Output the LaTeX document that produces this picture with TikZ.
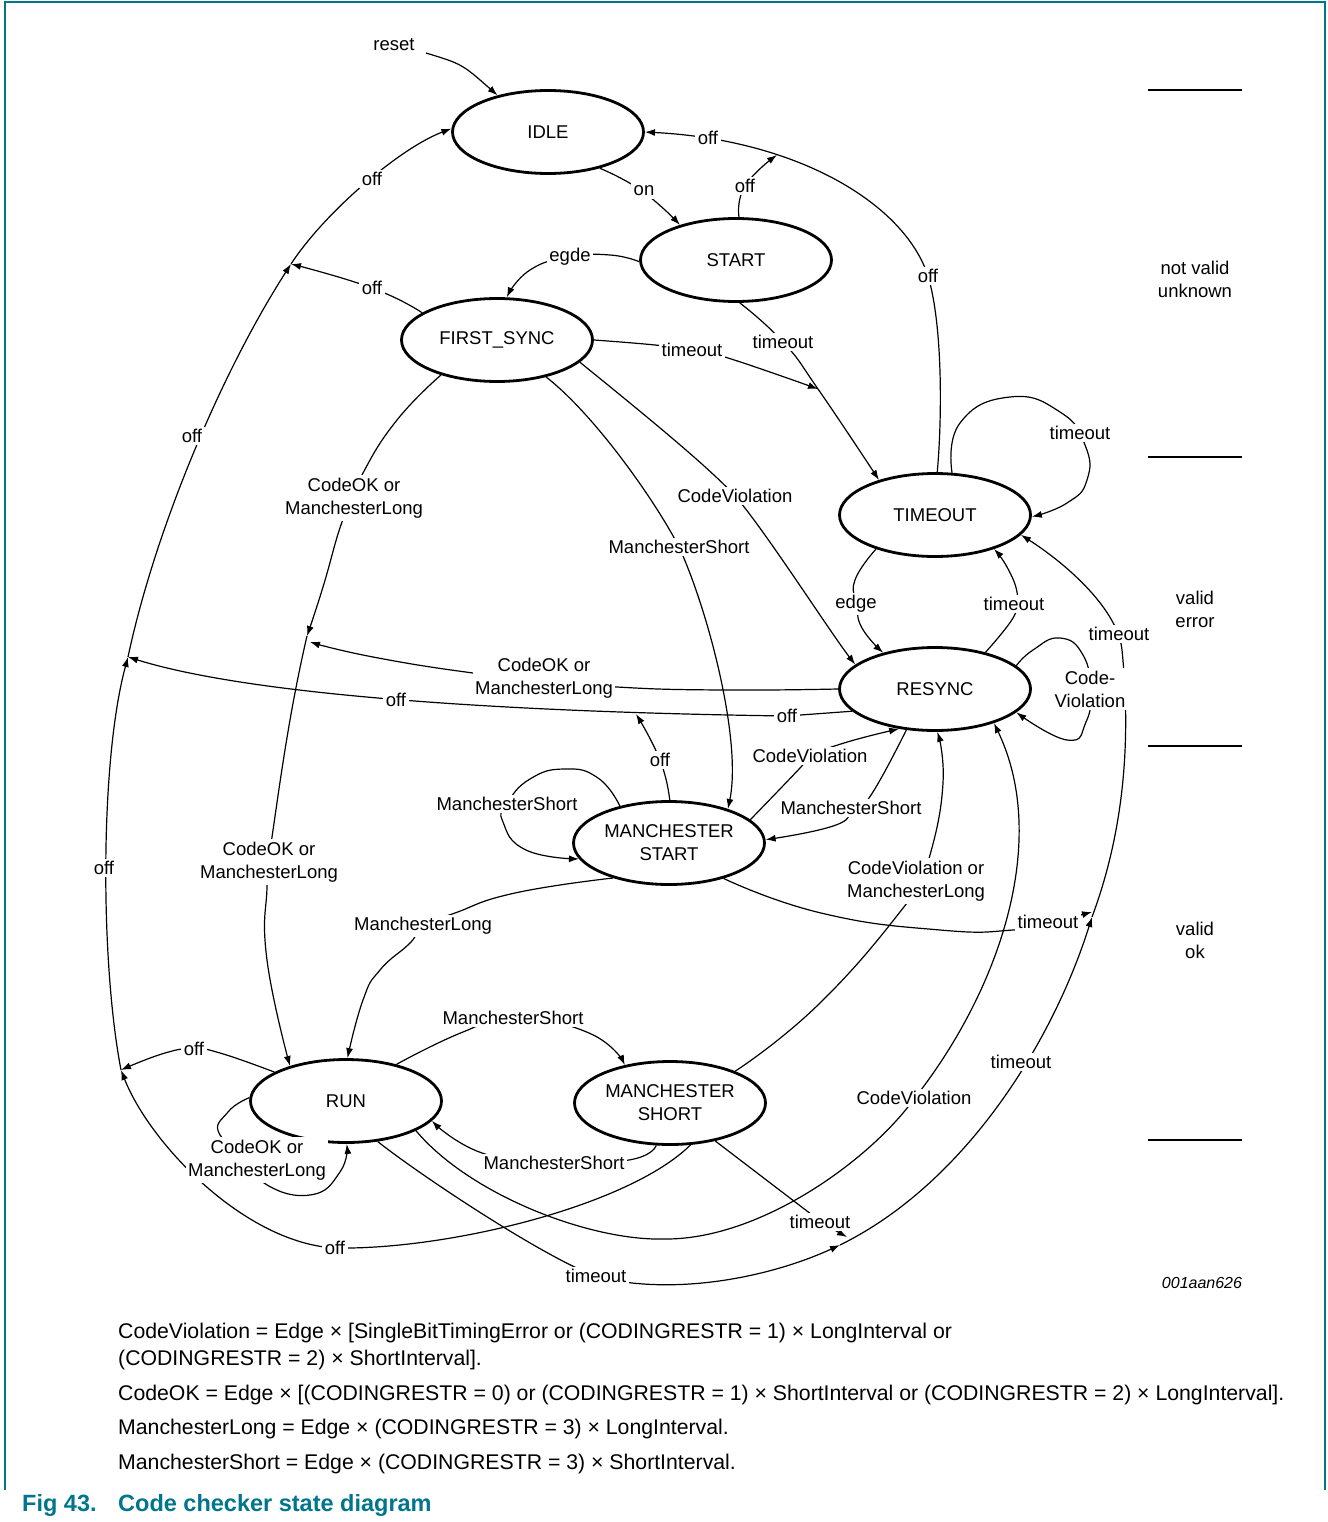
\documentclass[tikz,border=0pt]{standalone}
\usepackage{fontspec}
\setmainfont{Liberation Sans}
\usetikzlibrary{shapes.geometric,arrows.meta}
\definecolor{nxpteal}{RGB}{0,118,140}
\newcommand{\lblfont}{\fontsize{18.5}{23}\selectfont}
\newcommand{\legfont}{\fontsize{21.25}{25}\selectfont}
\begin{document}
\begin{tikzpicture}[x=1pt,y=-1pt]
\tikzset{
  state/.style={ellipse, draw, line width=2.8pt, minimum width=191pt, minimum height=83pt, inner sep=0pt, align=center, font=\lblfont},
  lbl/.style={fill=white, inner sep=2.5pt, align=center, font=\lblfont},
  zone/.style={inner sep=0pt, align=center, font=\lblfont},
  edge/.style={line width=1.2pt, -{Latex[length=10pt,width=7pt]}},
  sm/.style={smooth, tension=0.85},
  legend/.style={anchor=west, inner sep=0pt, font=\legfont},
  band/.style={line width=2.6pt}
}
\useasboundingbox (0,0) rectangle (1327,1522);
\fill[white] (0,0) rectangle (1327,1522);
\draw[nxpteal, line width=1.3pt] (5,1490) -- (5,2) -- (1325,2) -- (1325,1490);

% states
\node[state] (IDLE) at (548,132) {IDLE};
\node[state] (START) at (736,260) {START};
\node[state] (FS) at (497,340) {FIRST\_SYNC};
\node[state] (TIMEOUT) at (935,515) {TIMEOUT};
\node[state] (RESYNC) at (935,689) {RESYNC};
\node[state] (MSTART) at (669,843) {MANCHESTER\\START};
\node[state] (RUN) at (346,1101) {RUN};
\node[state] (MSHORT) at (670,1103) {MANCHESTER\\SHORT};

% junction points
\coordinate (r0) at (426,53);
\coordinate (J1) at (777,155);
\coordinate (J3) at (291,264);
\coordinate (J4) at (128,657);
\coordinate (J5) at (121,1070);
\coordinate (J6) at (818,389);
\coordinate (J7) at (307,636);
\coordinate (J7b) at (310,642);
\coordinate (J8) at (636,714);
\coordinate (J9) at (840,1245);
\coordinate (J9b) at (847,1237);
\coordinate (J10) at (1092,917);
\coordinate (J10b) at (1092,912);

% reset
\node[lbl] (lreset) at (394,45) {reset};
\draw[edge] (r0) .. controls (462,64) .. (IDLE.144);

% edges
\draw[edge] plot[sm] coordinates {(IDLE.-35) (642,191) (START.148)};
\draw[edge] plot[sm] coordinates {(START.86) (745,186) (J1)};
\draw[edge] (TIMEOUT.87) .. controls (942,420) and (943,326) .. (928,276)
  .. controls (905,205) and (800,140) .. (IDLE.0);
\draw[edge] plot[sm] coordinates {(START.181) (610,255) (570,257) (530,270) (FS.77)};
\draw[edge] plot[sm] coordinates {(FS.160) (372,288) (J3)};
\draw[edge] (J3) .. controls (325,212) and (400,148) .. (IDLE.178);
\draw[edge] (J4) .. controls (155,530) and (221,373) .. (J3);
\draw[edge] (J5) .. controls (100,960) and (100,760) .. (J4);
\draw[edge] (MSHORT.-64) .. controls (630,1205) and (450,1250) .. (335,1248)
  .. controls (245,1243) and (150,1144) .. (J5);
\draw[edge] plot[sm] coordinates {(RUN.158) (220,1053) (194,1049) (165,1053) (J5)};
\draw[edge] (RESYNC.195) -- (787,716) .. controls (500,712) and (250,695) .. (J4);
\draw[edge] plot[sm] coordinates {(MSTART.89) (660,760) (J8)};
\draw[edge] plot[sm] coordinates {(FS.0) (655,345) (693,350) (728,358) (J6)};
\draw[edge] plot[sm] coordinates {(START.-85) (783,342) (J6) (TIMEOUT.148)};
\draw[edge] (FS.-15) .. controls (635,407) and (708,466) .. (735,496)
  .. controls (762,526) and (830,632) .. (RESYNC.163);
\draw[edge] (FS.-37) .. controls (595,415) and (656,502) .. (679,547)
  .. controls (708,610) and (742,740) .. (MSTART.30);
\draw[edge] plot[sm] coordinates {(RESYNC.180) (720,690) (617,687) (544,680) (473,673) (373,657) (J7b)};
\draw[edge] plot[sm] coordinates {(FS.212) (397,420) (363,473) (355,498) (342,522) (323,587) (J7)};
\draw[edge] plot[sm] coordinates {(J7) (290,720) (272,837) (269,862) (267,887) (267,960) (RUN.148)};
\draw[edge] plot[sm] coordinates {(MSTART.143) (598,778) (565,769) (530,779) (507,804) (503,822) (526,850) (MSTART.190)};
\draw[edge] plot[sm] coordinates {(MSTART.16) (800,768) (809,757) (844,743) (RESYNC.228)};
\draw[edge] plot[sm] coordinates {(RESYNC.235) (869,798) (852,807) (836,825) (MSTART.2)};
\draw[edge] plot[sm] coordinates {(MSHORT.26) (820,1003) (907,903) (916,881) (930,855) (943,783) (RESYNC.-87)};
\draw[edge] (RUN.-23) .. controls (470,1195) and (590,1241) .. (664,1239)
  .. controls (760,1240) and (870,1160) .. (914,1099)
  .. controls (1000,990) and (1050,840) .. (RESYNC.-30);
\draw[edge] (RUN.-52) .. controls (420,1175) and (540,1255) .. (597,1277)
  .. controls (680,1297) and (775,1275) .. (J9);
\draw[edge] (J9) .. controls (966,1183) and (1053,1041) .. (J10);
\draw[edge] (J10) .. controls (1127,823) and (1130,730) .. (1122,650)
  .. controls (1118,610) and (1068,565) .. (TIMEOUT.-13);
\draw[edge] plot[sm] coordinates {(MSHORT.-40) (803,1208) (820,1221) (J9b)};
\draw[edge] plot[sm] coordinates {(MSTART.-33) (821,913) (940,930) (1013,930) (1048,923) (J10b)};
\draw[edge] plot[sm] coordinates {(MSTART.212) (515,893) (455,913) (423,926) (410,943) (380,970) (363,1000) (RUN.88)};
\draw[edge] plot[sm] coordinates {(RUN.36) (463,1032) (514,1018) (589,1033) (MSHORT.140)};
\draw[edge] plot[sm] coordinates {(MSHORT.-108) (629,1160) (553,1163) (482,1153) (RUN.-13)};
\draw[edge] plot[sm] coordinates {(RUN.178) (228,1112) (220,1135) (256,1160) (264,1183) (310,1195) (340,1172) (RUN.-89)};
\draw[edge] plot[sm] coordinates {(TIMEOUT.68) (960,423) (1010,397) (1060,412) (1085,445) (1087,480) (1067,503) (TIMEOUT.-1)};
\draw[edge] plot[sm] coordinates {(TIMEOUT.210) (855,580) (857,604) (862,628) (RESYNC.145)};
\draw[edge] plot[sm] coordinates {(RESYNC.36) (1013,618) (1014,604) (1017,592) (1007,567) (TIMEOUT.-30)};
\draw[edge] plot[sm] coordinates {(RESYNC.16) (1033,650) (1060,638) (1083,655) (1090,690) (1086,722) (1067,740) (RESYNC.-16)};

% edge labels
\node[lbl] (l1) at (644,191) {on};
\node[lbl] (l2) at (745,186) {off};
\node[lbl] (l3) at (708,138) {off};
\node[lbl] (l4) at (928,276) {off};
\node[lbl] (l5) at (570,257) {egde};
\node[lbl] (l6) at (372,288) {off};
\node[lbl] (l7) at (372,179) {off};
\node[lbl] (l8) at (192,436) {off};
\node[lbl] (l9) at (104,868) {off};
\node[lbl] (l10) at (335,1248) {off};
\node[lbl] (l11) at (194,1049) {off};
\node[lbl] (l12) at (396,700) {off};
\node[lbl] (l13) at (787,716) {off};
\node[lbl] (l14) at (660,760) {off};
\node[lbl] (l15) at (692,350) {timeout};
\node[lbl] (l16) at (783,342) {timeout};
\node[lbl] (l17) at (735,496) {CodeViolation};
\node[lbl] (l18) at (679,547) {ManchesterShort};
\node[lbl] (l19) at (354,498) {CodeOK or\\ManchesterLong};
\node[lbl] (l20) at (544,678) {CodeOK or\\ManchesterLong};
\node[lbl] (l21) at (269,862) {CodeOK or\\ManchesterLong};
\node[lbl] (l22) at (507,804) {ManchesterShort};
\node[lbl] (l23) at (810,756) {CodeViolation};
\node[lbl] (l24) at (851,808) {ManchesterShort};
\node[lbl] (l25) at (916,881) {CodeViolation or\\ManchesterLong};
\node[lbl] (l26) at (1048,922) {timeout};
\node[lbl] (l27) at (423,926) {ManchesterLong};
\node[lbl] (l28) at (513,1018) {ManchesterShort};
\node[lbl] (l29) at (554,1163) {ManchesterShort};
\node[lbl] (l30) at (257,1160) {CodeOK or\\ManchesterLong};
\node[lbl] (l31) at (820,1222) {timeout};
\node[lbl] (l32) at (596,1276) {timeout};
\node[lbl] (l33) at (914,1098) {CodeViolation};
\node[lbl] (l34) at (1021,1062) {timeout};
\node[lbl] (l35) at (1119,634) {timeout};
\node[lbl] (l36) at (1080,433) {timeout};
\node[lbl] (l37) at (856,604) {edge};
\node[lbl] (l38) at (1014,604) {timeout};
\node[lbl] (l39) at (1090,689) {Code-\\Violation};

% zones
\draw[band] (1148,90) -- (1242,90);
\draw[band] (1148,457) -- (1242,457);
\draw[band] (1148,746) -- (1242,746);
\draw[band] (1148,1140) -- (1242,1140);
\node[zone] (z1) at (1195,279) {not valid\\unknown};
\node[zone] (z2) at (1195,609) {valid\\error};
\node[zone] (z3) at (1195,940) {valid\\ok};
\node[inner sep=0pt, font=\itshape\fontsize{16}{19}\selectfont] (code) at (1202,1283) {001aan626};

% legend
\node[legend] (d1) at (118,1333) {CodeViolation = Edge × [SingleBitTimingError or (CODINGRESTR = 1) × LongInterval or};
\node[legend] (d2) at (118,1360) {(CODINGRESTR = 2) × ShortInterval].};
\node[legend] (d3) at (118,1395) {CodeOK = Edge × [(CODINGRESTR = 0) or (CODINGRESTR = 1) × ShortInterval or (CODINGRESTR = 2) × LongInterval].};
\node[legend] (d4) at (118,1429) {ManchesterLong = Edge × (CODINGRESTR = 3) × LongInterval.};
\node[legend] (d5) at (118,1464) {ManchesterShort = Edge × (CODINGRESTR = 3) × ShortInterval.};
\node[anchor=west, inner sep=0pt, text=nxpteal, font=\bfseries\fontsize{23.5}{27}\selectfont] (fig) at (22,1505) {Fig 43.};
\node[anchor=west, inner sep=0pt, text=nxpteal, font=\bfseries\fontsize{23.5}{27}\selectfont] (title) at (118,1505) {Code checker state diagram};
\end{tikzpicture}
\end{document}
